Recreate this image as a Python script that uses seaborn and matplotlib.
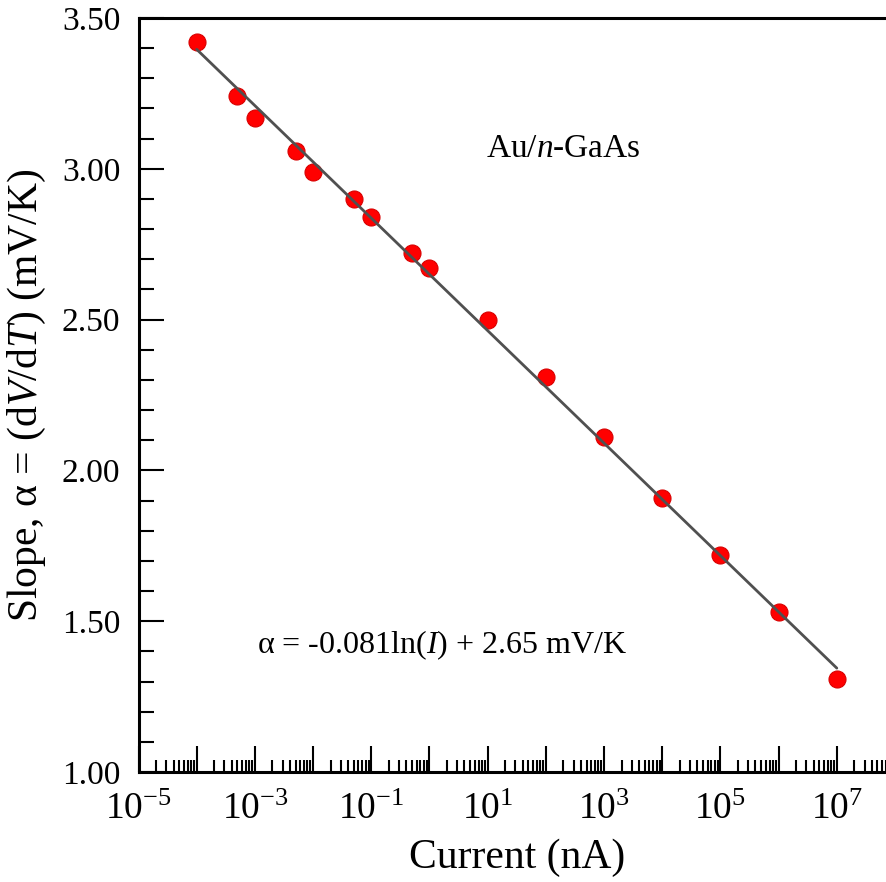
import numpy as np
import pandas as pd
import matplotlib
matplotlib.use("Agg")
import matplotlib.pyplot as plt
import matplotlib.ticker as mticker
import seaborn as sns

# ---- data ----
current_nA = [1e-4, 5e-4, 1e-3, 5e-3, 1e-2, 5e-2, 1e-1, 5e-1, 1e0,
              1e1, 1e2, 1e3, 1e4, 1e5, 1e6, 1e7]
slope_mVK = [3.42, 3.24, 3.17, 3.06, 2.99, 2.90, 2.84, 2.72, 2.67,
             2.50, 2.31, 2.11, 1.91, 1.72, 1.53, 1.31]
fit_coef = -0.081          # alpha = coef*ln(I) + intercept
fit_intercept = 2.65
fit_range = [1e-4, 1e7]
xtick_exponents = [-5, -3, -1, 1, 3, 5, 7]
ytick_values = [1.00, 1.50, 2.00, 2.50, 3.00, 3.50]

sns.set_style("ticks")
plt.rcParams["font.family"] = ["Liberation Serif", "DejaVu Serif"]
plt.rcParams["mathtext.fontset"] = "custom"
plt.rcParams["mathtext.rm"] = "Liberation Serif"
plt.rcParams["mathtext.it"] = "Liberation Serif:italic"
plt.rcParams["text.color"] = "black"
plt.rcParams["axes.labelcolor"] = "black"
plt.rcParams["xtick.color"] = "black"
plt.rcParams["ytick.color"] = "black"

df = pd.DataFrame({"I": current_nA, "alpha": slope_mVK})
fit_x = np.array(fit_range)
df_fit = pd.DataFrame({"I": fit_x, "alpha": fit_coef * np.log(fit_x) + fit_intercept})

fig = plt.figure(figsize=(8.87, 8.82), dpi=100)
ax = fig.add_axes([138.5 / 887, 110 / 882, 756.5 / 887, 754 / 882])

sns.scatterplot(data=df, x="I", y="alpha", ax=ax, s=150, color="#ff0000",
                edgecolor="#d80000", linewidth=0.8, zorder=2, legend=False)
sns.lineplot(data=df_fit, x="I", y="alpha", ax=ax, color="#505050",
             linewidth=2.0, zorder=3, legend=False)

ax.set_xscale("log")
ax.set_xlim(1e-5, 1e8)
ax.set_ylim(1.0, 3.5)

ax.xaxis.set_major_locator(mticker.FixedLocator([10.0 ** k for k in range(-5, 9)]))
ax.xaxis.set_minor_locator(mticker.LogLocator(base=10, subs=np.arange(2, 10), numticks=100))


def xfmt(v, pos):
    k = int(round(np.log10(v)))
    return rf"$10^{{{k}}}$" if k in xtick_exponents else ""


ax.xaxis.set_major_formatter(mticker.FuncFormatter(xfmt))
ax.xaxis.set_minor_formatter(mticker.NullFormatter())

ax.yaxis.set_major_locator(mticker.FixedLocator(ytick_values))
ax.yaxis.set_minor_locator(mticker.MultipleLocator(0.1))
ax.yaxis.set_major_formatter(mticker.FormatStrFormatter("%.2f"))

ax.tick_params(axis="x", which="major", direction="in", length=19, width=1.5,
               labelsize=27, pad=15, colors="black")
ax.tick_params(axis="x", which="minor", direction="in", length=9, width=1.5)
ax.tick_params(axis="y", which="major", direction="in", length=18, width=1.5,
               labelsize=24, pad=13, colors="black")
ax.tick_params(axis="y", which="minor", direction="in", length=11, width=1.5)
ax.tick_params(top=False, right=False, which="both")

for side in ["left", "bottom", "top", "right"]:
    ax.spines[side].set_linewidth(2.2)
    ax.spines[side].set_color("black")

ax.set_xlabel("Current (nA)", fontsize=30, labelpad=8)
ax.set_ylabel(r"Slope, α = (d$\mathit{V}$/d$\mathit{T}$) (mV/K)", fontsize=30, labelpad=10)

ax.text(0.459, 0.816, r"Au/$\mathit{n}$-GaAs", transform=ax.transAxes,
        fontsize=24, ha="left", va="baseline")
ax.text(0.157, 0.158, r"α = -0.081ln($\mathit{I}$) + 2.65 mV/K", transform=ax.transAxes,
        fontsize=23, ha="left", va="baseline")

fig.savefig("out.png", dpi=100)
